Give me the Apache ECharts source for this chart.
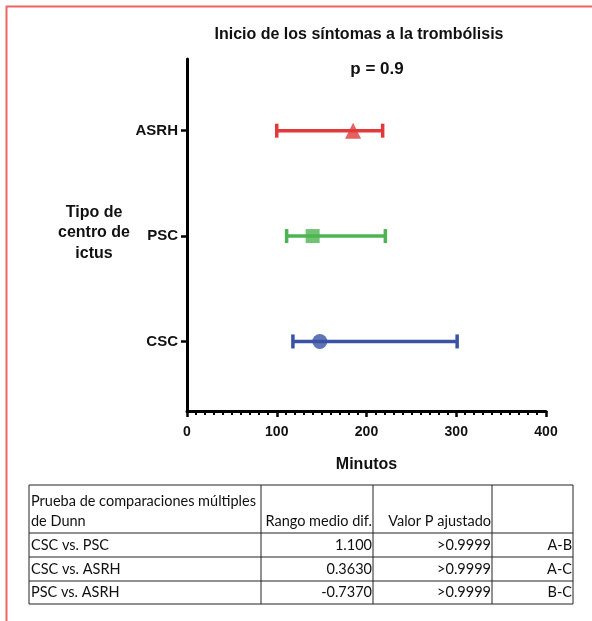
<!DOCTYPE html>
<html>
<head>
<meta charset="utf-8">
<script src="https://cdn.jsdelivr.net/npm/echarts@6/dist/echarts.min.js"></script>
<style>
html,body{margin:0;padding:0;background:#fff;}
#chart{width:592px;height:621px;}
</style>
</head>
<body>
<div id="chart"></div>
<script>
// ---- data ----
var categories = ['CSC', 'PSC', 'ASRH'];
var medians = [148, 140, 185];
var lowerValues = [118, 111, 100];
var upperValues = [301, 221, 218];
var xTicks = [0, 100, 200, 300, 400];
var titleText = 'Inicio de los síntomas a la trombólisis';
var pText = 'p = 0.9';
var yAxisTitle = 'Tipo de\ncentro de\nictus';
var xAxisTitle = 'Minutos';

var tableHeader = ['Prueba de comparaciones múltiples\nde Dunn', 'Rango medio dif.', 'Valor P ajustado', ''];
var comparisons = ['CSC vs. PSC', 'CSC vs. ASRH', 'PSC vs. ASRH'];
var rankDiffs = ['1.100', '0.3630', '-0.7370'];
var pAdjusted = ['>0.9999', '>0.9999', '>0.9999'];
var pairLabels = ['A-B', 'A-C', 'B-C'];

// ---- styles ----
var colors = ['#3a53a4', '#4cb450', '#e23a3a'];
var symbols = ['circle', 'rect', 'triangle'];
var symbolSizes = [15, 14, 16];
var chartFont = '"Liberation Sans", Arial, sans-serif';
var tableFont = 'Lato, "Open Sans", sans-serif';

var chart = echarts.init(document.getElementById('chart'), null, {renderer: 'canvas'});

var errData = categories.map(function (c, i) { return [lowerValues[i], upperValues[i], i]; });
var ptData = categories.map(function (c, i) {
  return {value: [medians[i], i], symbol: symbols[i], symbolSize: symbolSizes[i], itemStyle: {color: colors[i]}};
});

// table graphic
var colX = [29, 261, 373, 492, 573];
var rowY = [485, 533, 557, 581, 604];
var tableEls = [];
tableEls.push({type: 'rect', shape: {x: colX[0], y: rowY[0], width: colX[4] - colX[0], height: rowY[4] - rowY[0]}, style: {fill: 'none', stroke: '#222', lineWidth: 1}});
for (var r = 1; r < rowY.length - 1; r++) {
  tableEls.push({type: 'line', shape: {x1: colX[0], y1: rowY[r], x2: colX[4], y2: rowY[r]}, style: {stroke: '#222', lineWidth: 1}});
}
for (var c = 1; c < colX.length - 1; c++) {
  tableEls.push({type: 'line', shape: {x1: colX[c], y1: rowY[0], x2: colX[c], y2: rowY[4]}, style: {stroke: '#222', lineWidth: 1}});
}
function cellText(txt, col, row, align) {
  var x = align === 'left' ? colX[col] + 2 : colX[col + 1] - 1;
  var y = rowY[row + 1] - 2;
  return {type: 'text', style: {text: txt, x: x, y: y, align: align, verticalAlign: 'bottom', font: '14.5px ' + tableFont, fill: '#111', lineHeight: 20}};
}
tableEls.push(cellText(tableHeader[0], 0, 0, 'left'));
tableEls.push(cellText(tableHeader[1], 1, 0, 'right'));
tableEls.push(cellText(tableHeader[2], 2, 0, 'right'));
tableEls.push(cellText(tableHeader[3], 3, 0, 'right'));
for (var k = 0; k < comparisons.length; k++) {
  tableEls.push(cellText(comparisons[k], 0, k + 1, 'left'));
  tableEls.push(cellText(rankDiffs[k], 1, k + 1, 'right'));
  tableEls.push(cellText(pAdjusted[k], 2, k + 1, 'right'));
  tableEls.push(cellText(pairLabels[k], 3, k + 1, 'right'));
}

var option = {
  backgroundColor: '#fff',
  animation: false,
  textStyle: {fontFamily: chartFont},
  graphic: [
    {type: 'rect', shape: {x: 6.5, y: 6.5, width: 700, height: 700}, style: {fill: 'none', stroke: '#f26464', lineWidth: 2}, silent: true},
    {type: 'text', style: {text: titleText, x: 359, y: 35, align: 'center', verticalAlign: 'middle', font: 'bold 16px ' + chartFont, fill: '#111'}},
    {type: 'text', style: {text: pText, x: 377, y: 69, align: 'center', verticalAlign: 'middle', font: 'bold 17px ' + chartFont, fill: '#111'}},
    {type: 'text', style: {text: yAxisTitle, x: 94, y: 233, align: 'center', verticalAlign: 'middle', font: 'bold 16px ' + chartFont, fill: '#111', lineHeight: 20.5}},
    {type: 'group', children: tableEls}
  ],
  grid: {left: 187, right: 46, top: 59, bottom: 210, containLabel: false},
  xAxis: {
    type: 'value', min: 0, max: 400, interval: 100,
    name: xAxisTitle, nameLocation: 'middle', nameGap: 46,
    nameTextStyle: {fontSize: 16, fontWeight: 'bold', color: '#111', fontFamily: chartFont},
    axisLine: {show: true, onZero: false, lineStyle: {color: '#000', width: 3}},
    axisTick: {show: true, length: 6, lineStyle: {color: '#000', width: 2.5}},
    minorTick: {show: true, splitNumber: 10, length: 4, lineStyle: {color: '#000', width: 2}},
    splitLine: {show: false},
    axisLabel: {fontSize: 14, fontWeight: 'bold', color: '#111', margin: 14, fontFamily: chartFont,
      customValues: xTicks}
  },
  yAxis: {
    type: 'value', min: -0.66, max: 2.68,
    axisLine: {show: true, onZero: false, lineStyle: {color: '#000', width: 3}},
    axisTick: {show: true, length: 6, customValues: [0, 1, 2], lineStyle: {color: '#000', width: 2.5}},
    splitLine: {show: false},
    axisLabel: {
      customValues: [0, 1, 2], fontSize: 15, fontWeight: 'bold', color: '#111', margin: 9, fontFamily: chartFont,
      formatter: function (v) { return categories[Math.round(v)] || ''; }
    }
  },
  series: [
    {
      type: 'custom',
      data: errData,
      encode: {x: [0, 1], y: 2},
      renderItem: function (params, api) {
        var idx = api.value(2);
        var p1 = api.coord([api.value(0), idx]);
        var p2 = api.coord([api.value(1), idx]);
        var h = 7;
        var st = {stroke: colors[idx], lineWidth: 3.5};
        return {
          type: 'group',
          children: [
            {type: 'line', shape: {x1: p1[0], y1: p1[1], x2: p2[0], y2: p2[1]}, style: st},
            {type: 'line', shape: {x1: p1[0], y1: p1[1] - h, x2: p1[0], y2: p1[1] + h}, style: st},
            {type: 'line', shape: {x1: p2[0], y1: p2[1] - h, x2: p2[0], y2: p2[1] + h}, style: st}
          ]
        };
      },
      z: 2
    },
    {
      type: 'scatter',
      data: ptData,
      z: 3
    }
  ]
};
chart.setOption(option);
</script>
</body>
</html>
